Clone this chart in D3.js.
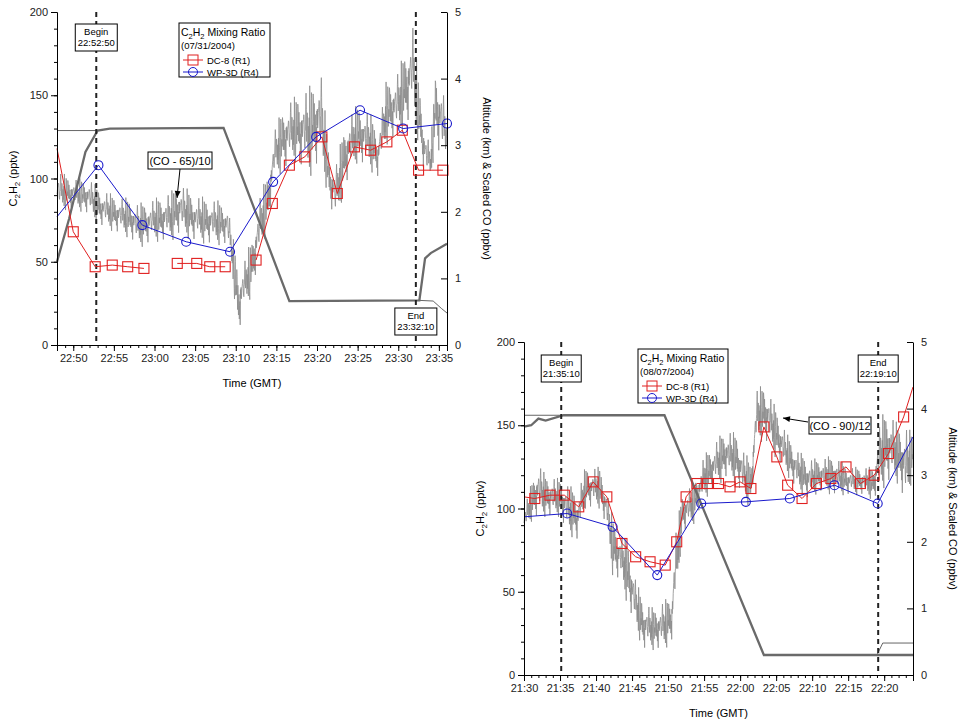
<!DOCTYPE html>
<html><head><meta charset="utf-8">
<script src="https://cdn.jsdelivr.net/npm/d3@7"></script>
<style>body{margin:0;background:#fff}text{font-family:"Liberation Sans",Arial,sans-serif}</style>
</head><body><svg id="c" width="960" height="720"></svg>
<script>
// ---- Panel 1 (07/31/2004), times in minutes after 22:00 ----
const p1Dc8 = [[48,118,0],[50,68,1],[52.7,47,1],[54.8,48,1],[56.7,47,1],[58.7,46,1],[null],[62.8,49,1],[65.2,49,1],[66.8,47,1],[68.7,47,1],[null],[72.5,51,1],[74.5,85,1],[76.6,108,1],[78.5,113,1],[80.6,125,1],[82.5,91,1],[84.6,119,1],[86.6,117,1],[88.6,122,1],[90.5,129,1],[92.5,105,1],[95.5,105,1]];
const p1Wp3 = [[48,77,0],[53.1,108,1],[58.5,72,1],[63.9,62,1],[69.3,56,1],[74.6,98,1],[79.9,125,1],[85.3,141,1],[90.6,130,1],[96,133,1]];
const p1Alt = [[48,1.25],[49.5,1.9],[51.5,2.9],[53,3.22],[54.5,3.25],[68.5,3.26],[76.6,0.66],[92.6,0.67],[93.3,1.3],[94,1.38],[96,1.52]];
const p1Alt2 = [[48,3.22],[53,3.22],[null],[92.6,0.67],[94.3,0.66],[95.3,0.55],[96,0.48]];
const p1Co = [[48,80,105],[50,82,100],[52,78,100],[53,72,95],[55,68,90],[57,64,88],[58,58,85],[60,62,88],[62,62,92],[63,66,98],[65,62,90],[67,60,88],[69,60,85],[69.5,45,70],[70.3,5,45],[71,20,50],[72,30,65],[73,55,90],[74,70,105],[74.8,100,130],[76,105,145],[77.5,110,150],[79,100,155],[80.5,110,165],[81.5,85,115],[82.3,72,108],[83.5,95,135],[85,110,145],[86.5,105,140],[87.5,100,128],[88.5,120,158],[90,125,165],[91,130,180],[91.8,140,193],[92.5,120,160],[93.3,100,130],[94,100,120],[94.6,120,168],[95.3,110,160],[96,110,140]];
// ---- Panel 2 (08/07/2004), times in minutes after 21:00 ----
const p2Dc8 = [[30,107,0],[31.5,106,1],[33.6,108,1],[35.6,108,1],[37.6,101,1],[39.6,116,1],[41.5,107,1],[43.6,79,1],[45.5,71,1],[47.5,68,1],[49.6,66,1],[51.2,80,1],[52.5,107,1],[54,115,1],[55.5,115,1],[57,115,1],[58.6,113,1],[60,116,1],[61.5,112,1],[63.3,149,1],[65.1,131,1],[66.6,114,1],[68.6,106,1],[70.6,115,1],[72.6,118,1],[74.7,125,1],[76.7,115,1],[78.6,120,1],[80.6,133,1],[82.7,155,1],[84,173,0]];
const p2Wp3 = [[30,95,0],[36,97,1],[42.3,89,1],[48.5,60,1],[54.6,103,1],[60.8,104,1],[66.9,106,1],[73.1,114,1],[79.1,103,1],[84,143,0]];
const p2Alt = [[30,3.73],[31,3.75],[32,3.85],[33,3.82],[35.5,3.9],[49.5,3.9],[63.3,0.3],[84,0.3]];
const p2Alt2 = [[30,3.9],[35,3.9],[null],[79,0.3],[79.8,0.48],[84,0.48]];
const p2Co = [[30,85,100],[31,92,115],[32,95,128],[33,95,120],[35,95,118],[36,85,115],[37.5,80,110],[38.5,100,125],[40.5,100,125],[41.5,88,112],[42.3,60,95],[43.5,55,85],[44.5,40,80],[45.5,28,58],[46.5,15,45],[48,15,40],[49.5,15,45],[50.5,20,48],[51,40,85],[52,85,110],[53.5,90,115],[55,105,132],[56.5,112,140],[58,118,148],[59.5,115,145],[60.5,105,135],[61.5,100,128],[62.3,140,172],[63.5,140,175],[65,130,160],[66.5,120,145],[68,110,135],[69.5,105,130],[71,110,130],[73,108,132],[75,108,125],[77,108,125],[78.5,105,125],[79.5,110,155],[80.5,115,160],[82,115,150],[83,100,150],[84,120,145]];
// fixed position-within-envelope pattern for the noisy CO trace
const noisePattern = [0.42,0.61,0.35,0.78,0.52,0.2,0.66,0.47,0.9,0.3,0.55,0.72,0.4,0.12,0.58,0.83,0.5,0.33,0.69,0.45,1.0,0.6,0.27,0.51,0.74,0.38,0.05,0.56,0.64,0.43,0.8,0.49,0.22,0.62,0.37,0.7,0.53,0.95,0.31,0.57,0.46,0.15,0.68,0.41,0.76,0.54,0.29,0.63,0.0,0.5,0.86,0.39,0.6,0.44];

const svg = d3.select("#c");

function panel(o){
  const fmt = m => { const mm = m%60, h = o.hour + Math.floor(m/60); return h + ":" + (mm<10?"0":"") + mm; };
  const g = svg.append("g");
  const x = d3.scaleLinear().domain(o.xd).range([o.l, o.r]);
  const y = d3.scaleLinear().domain([0,200]).range([o.b, o.t]);
  const y2 = d3.scaleLinear().domain([0,5]).range([o.b, o.t]);
  const pts = []; let j=0;
  for (let i=0;i<o.co.length-1;i++){
    const a=o.co[i], c=o.co[i+1], n=Math.max(2,Math.round((c[0]-a[0])/0.035));
    for (let k=0;k<n;k++,j++){
      const f=k/n, t=a[0]+(c[0]-a[0])*f;
      const lo=a[1]+(c[1]-a[1])*f, hi=a[2]+(c[2]-a[2])*f;
      pts.push([t, lo+(hi-lo)*noisePattern[(j*7)%noisePattern.length]]);
    }
  }
  g.append("path").attr("d", d3.line().x(d=>x(d[0])).y(d=>y(d[1]))(pts)).attr("fill","none").attr("stroke","#8c8c8c").attr("stroke-width",0.8);
  const ln2 = d3.line().defined(d=>d[0]!==null).x(d=>x(d[0])).y(d=>y2(d[1]));
  g.append("path").attr("d", ln2(o.alt2)).attr("fill","none").attr("stroke","#666").attr("stroke-width",1);
  g.append("path").attr("d", ln2(o.alt)).attr("fill","none").attr("stroke","#6a6a6a").attr("stroke-width",2.3);
  o.marks.forEach(m=>g.append("line").attr("x1",x(m)).attr("x2",x(m)).attr("y1",o.t).attr("y2",o.b).attr("stroke","#222").attr("stroke-width",2).attr("stroke-dasharray","5,4"));
  const ln = d3.line().defined(d=>d[0]!==null).x(d=>x(d[0])).y(d=>y(d[1]));
  g.append("path").attr("d", ln(o.dc8)).attr("fill","none").attr("stroke","#e02020").attr("stroke-width",1);
  g.selectAll(".sq").data(o.dc8.filter(d=>d[2])).enter().append("rect").attr("x",d=>x(d[0])-5).attr("y",d=>y(d[1])-5).attr("width",10).attr("height",10).attr("fill","none").attr("stroke","#e02020").attr("stroke-width",1.1);
  g.append("path").attr("d", ln(o.wp3)).attr("fill","none").attr("stroke","#1a1acc").attr("stroke-width",1);
  g.selectAll(".ci").data(o.wp3.filter(d=>d[2])).enter().append("circle").attr("cx",d=>x(d[0])).attr("cy",d=>y(d[1])).attr("r",4.5).attr("fill","none").attr("stroke","#1a1acc").attr("stroke-width",1.1);
  const ax = g.append("g").attr("transform",`translate(0,${o.b})`).call(d3.axisBottom(x).tickValues(d3.range(Math.ceil(o.xd[0]/5)*5,o.xd[1]+0.01,5)).tickFormat(fmt).tickSize(6));
  ax.selectAll("text").attr("font-size",11).attr("fill","#222");
  g.append("g").attr("transform",`translate(0,${o.b})`).call(d3.axisBottom(x).tickValues(d3.range(Math.ceil(o.xd[0]),o.xd[1]+0.01,1)).tickFormat("").tickSize(3)).select(".domain").remove();
  const ay = g.append("g").attr("transform",`translate(${o.l},0)`).call(d3.axisLeft(y).tickValues([0,50,100,150,200]).tickSize(6));
  ay.selectAll("text").attr("font-size",11).attr("fill","#222");
  g.append("g").attr("transform",`translate(${o.l},0)`).call(d3.axisLeft(y).tickValues(d3.range(0,201,10)).tickFormat("").tickSize(3)).select(".domain").remove();
  const ay2 = g.append("g").attr("transform",`translate(${o.r},0)`).call(d3.axisRight(y2).ticks(5).tickSizeInner(-6).tickSizeOuter(0).tickPadding(8));
  ay2.selectAll("text").attr("font-size",11).attr("fill","#222");
  g.selectAll(".domain").attr("stroke","#000");
  g.selectAll(".tick line").attr("stroke","#000");
  g.append("text").attr("x",(o.l+o.r)/2).attr("y",o.b+42).attr("text-anchor","middle").attr("font-size",11).text("Time (GMT)");
  const lt = g.append("text").attr("transform",`translate(${o.l-40},${(o.t+o.b)/2}) rotate(-90)`).attr("text-anchor","middle").attr("font-size",11);
  lt.append("tspan").text("C"); lt.append("tspan").attr("font-size",8).attr("dy",3).text("2");
  lt.append("tspan").attr("dy",-3).text("H"); lt.append("tspan").attr("font-size",8).attr("dy",3).text("2");
  lt.append("tspan").attr("dy",-3).text("  (pptv)");
  g.append("text").attr("transform",`translate(${o.r+36},${(o.t+o.b)/2}) rotate(90)`).attr("text-anchor","middle").attr("font-size",11).text("Altitude  (km) & Scaled CO  (ppbv)");
  function box(cx,ty,lines){
    const w=o.bw, h=27;
    g.append("rect").attr("x",cx-w/2).attr("y",ty).attr("width",w).attr("height",h).attr("fill","#fff").attr("stroke","#000");
    lines.forEach((s,i)=>g.append("text").attr("x",cx).attr("y",ty+11+i*11).attr("text-anchor","middle").attr("font-size",9.5).text(s));
  }
  o.boxes.forEach(b=>box(x(b[0]),b[1],b[2]));
  const L=o.leg;
  g.append("rect").attr("x",L.x).attr("y",L.y).attr("width",L.w).attr("height",54).attr("fill","#fff").attr("stroke","#000");
  const t1=g.append("text").attr("x",L.x+2).attr("y",L.y+13).attr("font-size",10.5);
  t1.append("tspan").text("C"); t1.append("tspan").attr("font-size",7.5).attr("dy",3).text("2");
  t1.append("tspan").attr("dy",-3).text("H"); t1.append("tspan").attr("font-size",7.5).attr("dy",3).text("2");
  t1.append("tspan").attr("dy",-3).text(" Mixing Ratio");
  g.append("text").attr("x",L.x+2).attr("y",L.y+26).attr("font-size",9.5).text(L.date);
  [["DC-8 (R1)","#e02020","s"],["WP-3D (R4)","#1a1acc","c"]].forEach((e,i)=>{
    const yy=L.y+37+i*12;
    g.append("line").attr("x1",L.x+4).attr("x2",L.x+24).attr("y1",yy).attr("y2",yy).attr("stroke",e[1]);
    if(e[2]=="s") g.append("rect").attr("x",L.x+9).attr("y",yy-5).attr("width",10).attr("height",10).attr("fill","none").attr("stroke",e[1]);
    else g.append("circle").attr("cx",L.x+14).attr("cy",yy).attr("r",4.5).attr("fill","none").attr("stroke",e[1]);
    g.append("text").attr("x",L.x+28).attr("y",yy+4).attr("font-size",9.5).text(e[0]);
  });
  const A=o.ann;
  g.append("rect").attr("x",A.x).attr("y",A.y).attr("width",A.w).attr("height",17).attr("fill","#fff").attr("stroke","#000");
  g.append("text").attr("x",A.x+A.w/2).attr("y",A.y+13).attr("text-anchor","middle").attr("font-size",11).text(A.text);
  g.append("line").attr("x1",A.ax1).attr("y1",A.ay1).attr("x2",A.ax2).attr("y2",A.ay2).attr("stroke","#000");
  const ang=Math.atan2(A.ay2-A.ay1,A.ax2-A.ax1);
  const p=[[A.ax2,A.ay2],[A.ax2-7*Math.cos(ang)+3*Math.sin(ang),A.ay2-7*Math.sin(ang)-3*Math.cos(ang)],[A.ax2-7*Math.cos(ang)-3*Math.sin(ang),A.ay2-7*Math.sin(ang)+3*Math.cos(ang)]];
  g.append("path").attr("d","M"+p.join("L")+"Z").attr("fill","#000");
}

panel({hour:22,xd:[48,96],l:57,r:447,t:12,b:345,dc8:p1Dc8,wp3:p1Wp3,alt:p1Alt,alt2:p1Alt2,co:p1Co,
  marks:[52+50/60,92+10/60],bw:42,
  boxes:[[52+50/60,24,["Begin","22:52:50"]],[92+10/60,308,["End","23:32:10"]]],
  leg:{x:179,y:23,w:91,date:"(07/31/2004)"},
  ann:{x:148,y:152,w:64,text:"(CO - 65)/10",ax1:180,ay1:169,ax2:177,ay2:198}});
panel({hour:21,xd:[30,84],l:524,r:913,t:342,b:675,dc8:p2Dc8,wp3:p2Wp3,alt:p2Alt,alt2:p2Alt2,co:p2Co,
  marks:[35+10/60,79+10/60],bw:40,
  boxes:[[35+10/60,355,["Begin","21:35:10"]],[79+10/60,355,["End","22:19:10"]]],
  leg:{x:638,y:349,w:90,date:"(08/07/2004)"},
  ann:{x:809,y:417,w:62,text:"(CO - 90)/12",ax1:808,ay1:422,ax2:783,ay2:418}});
</script></body></html>
